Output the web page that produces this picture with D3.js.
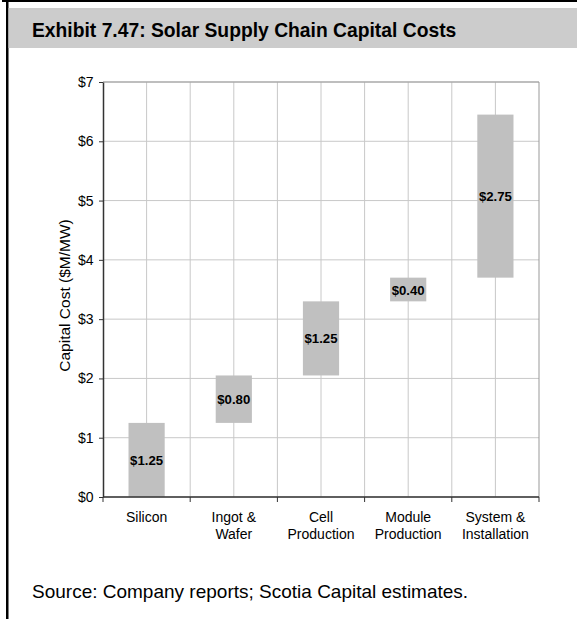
<!DOCTYPE html>
<html><head><meta charset="utf-8">
<script src="https://cdn.jsdelivr.net/npm/d3@7"></script>
<style>body{margin:0;background:#fff}svg{display:block}</style>
</head><body>
<script>
const categories = [["Silicon"],["Ingot &","Wafer"],["Cell","Production"],["Module","Production"],["System &","Installation"]];
const starts = [0, 1.25, 2.05, 3.30, 3.70];
const amounts = [1.25, 0.80, 1.25, 0.40, 2.75];
const labels = ["$1.25","$0.80","$1.25","$0.40","$2.75"];
const yTicks = [0,1,2,3,4,5,6,7];

const W=577,H=619;
const svg=d3.select("body").append("svg").attr("width",W).attr("height",H);
const font="Liberation Sans, Arial, sans-serif";

// frame
svg.append("rect").attr("x",2).attr("y",0).attr("width",W-2).attr("height",2).attr("fill","#000");
svg.append("rect").attr("x",6).attr("y",0).attr("width",2.5).attr("height",H).attr("fill","#000");
svg.append("rect").attr("x",8.5).attr("y",8).attr("width",W-8.5).attr("height",40).attr("fill","#cccccc");
svg.append("text").attr("x",32).attr("y",37).attr("font-family",font).attr("font-weight","bold")
  .attr("font-size",19.3).attr("fill","#000").text("Exhibit 7.47: Solar Supply Chain Capital Costs");

const pL=103,pR=539,pT=82,pB=497;
const x=d3.scaleBand().domain(d3.range(categories.length)).range([pL,pR]).padding(0);
const y=d3.scaleLinear().domain([0,7]).range([pB,pT]);
const bw=x.bandwidth();

const g=svg.append("g");
g.selectAll("line.hg").data(yTicks).join("line").attr("x1",pL).attr("x2",pR)
  .attr("y1",d=>y(d)).attr("y2",d=>y(d)).attr("stroke","#c8c8c8").attr("stroke-width",1);
const vgrid=[];
d3.range(categories.length).forEach(i=>{vgrid.push(x(i)+bw/2); if(i>0) vgrid.push(x(i));});
g.selectAll("line.vg").data(vgrid).join("line").attr("x1",d=>d).attr("x2",d=>d)
  .attr("y1",pT).attr("y2",pB).attr("stroke","#c8c8c8").attr("stroke-width",1);
g.append("line").attr("x1",pL).attr("x2",pR).attr("y1",pT).attr("y2",pT).attr("stroke","#999");
g.append("line").attr("x1",pR).attr("x2",pR).attr("y1",pT).attr("y2",pB).attr("stroke","#999");

const barW=bw*0.415;
const bars=g.selectAll("g.bar").data(d3.range(categories.length)).join("g");
bars.append("rect").attr("x",i=>x(i)+bw/2-barW/2).attr("width",barW)
  .attr("y",i=>y(starts[i]+amounts[i])).attr("height",i=>y(starts[i])-y(starts[i]+amounts[i]))
  .attr("fill","#c0c0c0");
bars.append("text").attr("x",i=>x(i)+bw/2).attr("y",i=>y(starts[i]+amounts[i]/2)+5)
  .attr("text-anchor","middle").attr("font-family",font).attr("font-weight","bold").attr("font-size",13.2)
  .attr("fill","#000").text(i=>labels[i]);

const ya=svg.append("g").attr("transform",`translate(${pL},0)`)
  .call(d3.axisLeft(y).tickValues(yTicks).tickFormat(d=>"$"+d).tickSize(4).tickSizeOuter(0));
ya.select(".domain").attr("stroke","#333").attr("stroke-width",1.5);
ya.selectAll(".tick line").attr("stroke","#333");
ya.selectAll(".tick text").attr("font-family",font).attr("font-size",14).attr("fill","#000").attr("x",-9.5);

const xa=svg.append("g").attr("transform",`translate(0,${pB})`);
xa.append("line").attr("x1",pL).attr("x2",pR).attr("stroke","#333").attr("stroke-width",1.5);
const xb=d3.range(categories.length+1).map(i=>pL+i*bw);
xa.selectAll("line.t").data(xb).join("line").attr("x1",d=>d).attr("x2",d=>d).attr("y1",0).attr("y2",5).attr("stroke","#333");
const xl=xa.selectAll("text.c").data(d3.range(categories.length)).join("text")
  .attr("text-anchor","middle").attr("font-family",font).attr("font-size",14).attr("fill","#000");
xl.each(function(i){
  const t=d3.select(this);
  categories[i].forEach((s,k)=>t.append("tspan").attr("x",x(i)+bw/2).attr("y",24.5+k*17).text(s));
});

svg.append("text").attr("transform",`translate(70,${(pT+pB)/2 + 6}) rotate(-90)`)
  .attr("text-anchor","middle").attr("font-family",font).attr("font-size",15.5).attr("fill","#000")
  .text("Capital Cost ($M/MW)");

svg.append("text").attr("x",32).attr("y",598).attr("font-family",font).attr("font-size",19).attr("fill","#000")
  .text("Source: Company reports; Scotia Capital estimates.");
</script>
</body></html>
